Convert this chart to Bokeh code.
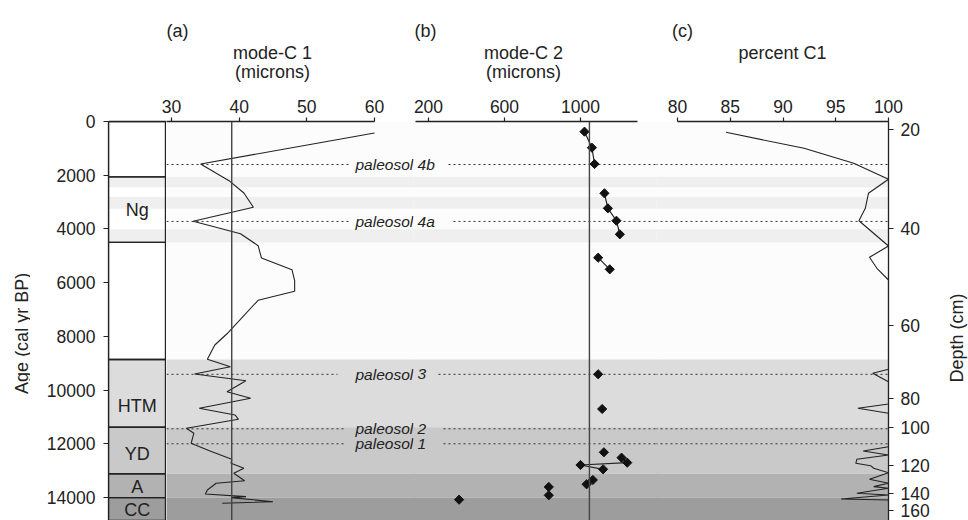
import numpy as np
from bokeh.plotting import figure
from bokeh.models import Range1d, LinearAxis, FixedTicker, Span, ColumnDataSource
from bokeh.layouts import row, column
from bokeh.embed import file_html
from bokeh.resources import INLINE
from bokeh.core.properties import value

# ---------------- data ----------------
zone_names = ["", "Ng", "", "HTM", "YD", "A", "CC"]
zone_tops = [0, 2060, 4500, 8860, 11377, 13111, 14000]
zone_bottoms = [2060, 4500, 8860, 11377, 13111, 14000, 14850]

stripe_tops = [2060, 2810, 4010]
stripe_bottoms = [2450, 3250, 4500]

shade_tops = [0, 8860, 11377, 13111, 14000]
shade_bottoms = [8860, 11377, 13111, 14000, 14850]

paleosol_word = "paleosol"
paleosol_ids = ["4b", "4a", "3", "2", "1"]
paleosol_ages = [1600, 3720, 9410, 11437, 11995]

age_ticks = [0, 2000, 4000, 6000, 8000, 10000, 12000, 14000]
depth_labels = [20, 40, 60, 80, 100, 120, 140, 160]
depth_ages = [316, 3964, 7577, 10301, 11381, 12810, 13863, 14470]

a_ticks = [30, 40, 50, 60]
b_ticks = [200, 600, 1000]
c_ticks = [80, 85, 90, 95, 100]
a_ref = 38.9
b_ref = 1047

ages_a = [428, 1582, 2203, 2661, 3193, 3714, 4175, 4622, 5080, 5515, 5925, 6320, 6654,
          7900, 8318, 8851, 9125, 9397, 9646, 10055, 10302, 10674, 10923, 11083, 11418,
          11604, 11976, 12251, 12572, 12721, 12907, 13093, 13368, 13465, 13714, 13863,
          13963, 14000, 14150, 14210]
vals_a = [60.0, 34.3, 38.5, 40.7, 42.1, 33.2, 40.2, 42.8, 43.3, 47.8, 48.2, 48.2, 42.8,
          38.2, 36.4, 35.3, 38.7, 33.4, 41.0, 38.2, 41.7, 34.1, 39.4, 39.9, 32.2,
          33.3, 32.9, 35.6, 38.9, 38.8, 40.7, 39.2, 40.8, 36.6, 35.3, 35.0,
          41.0, 38.8, 45.0, 37.5]

ages_b = [379, 975, 1582, 2673, 3231, 3693, 4198, 5069, 5501, 9408, 10700, 12311,
          12512, 12698, 12784, 12944, 13342, 13502, 13602, 13911, 14075]
vals_b = [1021, 1060, 1074, 1126, 1144, 1189, 1207, 1093, 1154, 1093, 1114, 1123,
          1216, 1246, 1000, 1119, 1065, 1032, 833, 833, 361]
b_run = [1, 1, 1, 2, 2, 2, 2, 3, 3, 0, 0, 0, 4, 4, 4, 4, 5, 5, 0, 0, 0]

ages_c = [403, 998, 1557, 2152, 2673, 3231, 3693, 4633, 5054, 5464, 5899, 9222, 9371,
          9683, 10514, 10674, 10860, 12103, 12263, 12412, 12572, 12721, 12810, 12907,
          13070, 13316, 13465, 13590, 13652, 13837, 13900, 14049, 14086, 14200]
vals_c = [84.6, 92.0, 96.7, 100, 98.1, 97.8, 97.2, 100, 98.2, 98.9, 100, 100, 98.5,
          100, 100, 97.1, 100, 100, 97.6, 100, 97.0, 96.9, 98.3, 98.6,
          100, 98.2, 100, 98.6, 100, 97.0, 100, 95.5, 100, 100]

title_texts = ["(a)", "mode-C 1", "(microns)", "(b)", "mode-C 2", "(microns)", "(c)", "percent C1"]

# ---------------- style / layout ----------------
FONT = "Liberation Sans"
INK = "#222222"
W = 968
HEAD_H = 85          # header strip height
MAIN_H = 435         # main row height
BORDER_TOP = 36      # space for the top axes inside main figures
AGE_MAX = 14850
STRIPE = "#efefef"
SHADES = ["#fcfcfc", "#dcdcdd", "#c9c9ca", "#b2b2b2", "#9d9d9d"]
ZONE_SHADES = ["white", "#dcdcdd", "#c9c9ca", "#b2b2b2", "#9d9d9d"]
DOTS = "2 3"
gap_left = [350, 350, 337, 343, 343]
gap_right = [448, 453, 438, 443, 443]
zone_label_nudge = [0, 0, 0, 13, 4, 1, 1]          # px, downward
title_x = [177, 272, 272, 425, 523, 523, 682, 782]
title_y = [30, 52.5, 71.5, 30, 52.5, 71.5, 30, 52.5]
PS_SIZE = 15.5
PS_X = 355                                        # left edge of paleosol labels
PS_X2 = PS_X + (3.724 + 0.278) * PS_SIZE           # start of the number after "paleosol "

# window-pixel edges of the panels
ZL, ZR = 108, 166
AR = 415          # right edge of (a)
BR = 658          # right edge of (b)
CR = 888          # right edge of (c) frame
OVL = 2           # overlap between neighbouring panels


class Cal:
    def __init__(self, left, right, ref_px, ref_val, scale):
        self.left, self.right = left, right
        self.ref_px, self.ref_val, self.scale = ref_px, ref_val, scale

    def x(self, px):
        return self.ref_val + (px - self.ref_px) / self.scale

    def rng(self):
        return Range1d(self.x(self.left), self.x(self.right))


calZ = Cal(ZL, ZR, ZL, 0.0, 58 / 1.012)
calA = Cal(ZR, AR, 171, 30, (374 - 171) / 30)
calB = Cal(AR - OVL, BR, 428, 200, 0.19)
calC = Cal(BR - OVL, CR, 677, 80, 10.55)


def make_fig(width, cal, left=0, right=0, shades=SHADES):
    p = figure(width=width, height=MAIN_H, x_range=cal.rng(), y_range=Range1d(AGE_MAX, 0),
               output_backend="svg", toolbar_location=None, title=None,
               x_axis_location=None, y_axis_location=None,
               min_border_top=BORDER_TOP, min_border_bottom=0,
               min_border_left=left, min_border_right=right,
               background_fill_color=None, border_fill_color=None,
               outline_line_color=None)
    p.grid.visible = False
    x0, x1 = cal.x(cal.left - 50), cal.x(cal.right + 50)
    p.quad(left=x0, right=x1, top=shade_tops, bottom=shade_bottoms,
           fill_color=shades, line_color=None, level="image")
    p.quad(left=x0, right=x1, top=stripe_tops, bottom=stripe_bottoms,
           fill_color=STRIPE, line_color=None, level="image")
    return p


def plain_fig(width, height):
    p = figure(width=width, height=height, x_range=Range1d(0, width), y_range=Range1d(height, 0),
               output_backend="svg", toolbar_location=None, title=None,
               x_axis_location=None, y_axis_location=None,
               min_border=0, min_border_top=0, min_border_bottom=0,
               min_border_left=0, min_border_right=0,
               background_fill_color="white", border_fill_color="white",
               outline_line_color=None)
    p.grid.visible = False
    return p


def style_axis(ax, tick_out=4, standoff=5):
    ax.axis_line_color = INK
    ax.axis_line_width = 1.3
    ax.major_tick_line_color = INK
    ax.major_tick_line_width = 1.2
    ax.major_tick_out = tick_out
    ax.major_tick_in = 0
    ax.minor_tick_out = 0
    ax.minor_tick_in = 0
    ax.major_label_standoff = standoff
    ax.major_label_text_font = FONT
    ax.major_label_text_font_size = "17.5px"
    ax.major_label_text_color = INK


def top_axis(p, ticks, bounds):
    ax = LinearAxis(ticker=FixedTicker(ticks=ticks), bounds=bounds)
    style_axis(ax)
    p.add_layout(ax, "above")


def dotted_segments(p, x0s, x1s):
    p.segment(x0=x0s, x1=x1s, y0=paleosol_ages, y1=paleosol_ages, line_color="#333333",
              line_width=1, line_dash=DOTS)


def italic_text(p, xs, texts):
    src = ColumnDataSource(dict(x=xs, y=paleosol_ages, t=texts))
    p.text(x="x", y="y", text="t", source=src, text_font=value(FONT),
           text_font_size=f"{PS_SIZE}px", text_font_style="italic", text_color=INK,
           text_align="left", text_baseline="middle")


# ---------------- header strip (titles) ----------------
ph = plain_fig(W, HEAD_H)
ph.text(x=title_x, y=title_y, text=title_texts, text_font=value(FONT), text_font_size="18px",
        text_color=INK, text_align="center", text_baseline="alphabetic")

# ---------------- side label strips ----------------
p_age = plain_fig(30, MAIN_H)
p_age.text(x=[21], y=[316 - HEAD_H], text=["Age (cal yr BP)"], angle=np.pi / 2,
           text_font=value(FONT), text_font_size="18px", text_color=INK,
           text_align="center", text_baseline="middle")
p_dep = plain_fig(W - 933, MAIN_H)
p_dep.text(x=[956 - 933], y=[321 - HEAD_H], text=["Depth (cm)"], angle=np.pi / 2,
           text_font=value(FONT), text_font_size="18px", text_color=INK,
           text_align="center", text_baseline="middle")

# ---------------- zone column ----------------
pz = make_fig(ZR - 30, calZ, left=ZL - 30, shades=ZONE_SHADES)
zax = LinearAxis(ticker=FixedTicker(ticks=[]))
style_axis(zax, tick_out=0)
pz.add_layout(zax, "above")
lax = LinearAxis(ticker=FixedTicker(ticks=age_ticks))
style_axis(lax, tick_out=5, standoff=8)
pz.add_layout(lax, "left")
pz.quad(left=0, right=1.0, top=zone_tops, bottom=zone_bottoms, fill_alpha=0,
        line_color=INK, line_width=1.4)
pz.add_layout(Span(location=1.0, dimension="height", line_color=INK, line_width=2.0))
mids = [(t + b) / 2 for t, b in zip(zone_tops, zone_bottoms)]
zsrc = ColumnDataSource(dict(x=[0.5] * len(mids), y=mids, t=zone_names, dy=zone_label_nudge))
pz.text(x="x", y="y", text="t", y_offset="dy", source=zsrc, text_font=value(FONT),
        text_font_size="18px", text_color=INK, text_align="center", text_baseline="middle")

# ---------------- panel (a) ----------------
OV = 11  # transparent left border of (a) lying over the zone column (room for "30")
pa = make_fig(AR - ZR + OV, calA, left=OV)
pa.margin = (0, 0, 0, -OV)
top_axis(pa, a_ticks, (calA.x(ZR), 60))
dotted_segments(pa, [calA.x(ZR)] * 5, [calA.x(g) for g in gap_left])
pa.line(vals_a, ages_a, line_color=INK, line_width=1.1)
pa.add_layout(Span(location=a_ref, dimension="height", line_color="#444444", line_width=1.4))
italic_text(pa, [calA.x(PS_X)] * 5, [paleosol_word] * 5)

# ---------------- panel (b) ----------------
pb = make_fig(BR - (AR - OVL), calB)
pb.margin = (0, 0, 0, -OVL)
top_axis(pb, b_ticks, (calB.x(AR), 1300))
dotted_segments(pb, [calB.x(g) for g in gap_right], [calB.x(BR + 40)] * 5)
xs, ys = [], []
for rid in sorted(set(b_run) - {0}):
    idx = [i for i, r in enumerate(b_run) if r == rid]
    xs.append([vals_b[i] for i in idx])
    ys.append([ages_b[i] for i in idx])
pb.multi_line(xs, ys, line_color=INK, line_width=1.2)
pb.add_layout(Span(location=b_ref, dimension="height", line_color="#444444", line_width=1.4))
pb.scatter(vals_b, ages_b, marker="square", angle=np.pi / 4, size=6.5,
           fill_color="#111111", line_color="#111111")
italic_text(pb, [calB.x(PS_X2)] * 5, paleosol_ids)

# ---------------- panel (c) ----------------
pc = make_fig(933 - (BR - OVL), calC, right=933 - CR)
pc.margin = (0, 0, 0, -OVL)
top_axis(pc, c_ticks, (80, 100))
rax = LinearAxis(ticker=FixedTicker(ticks=depth_ages),
                 major_label_overrides={a: str(d) for a, d in zip(depth_ages, depth_labels)})
style_axis(rax, tick_out=5, standoff=7)
pc.add_layout(rax, "right")
dotted_segments(pc, [calC.x(600)] * 5, [calC.x(CR)] * 5)
pc.line(vals_c, ages_c, line_color=INK, line_width=1.1)

layout = column(ph, row(p_age, pz, pa, pb, pc, p_dep))
open("out.html", "w").write(file_html(layout, INLINE))
